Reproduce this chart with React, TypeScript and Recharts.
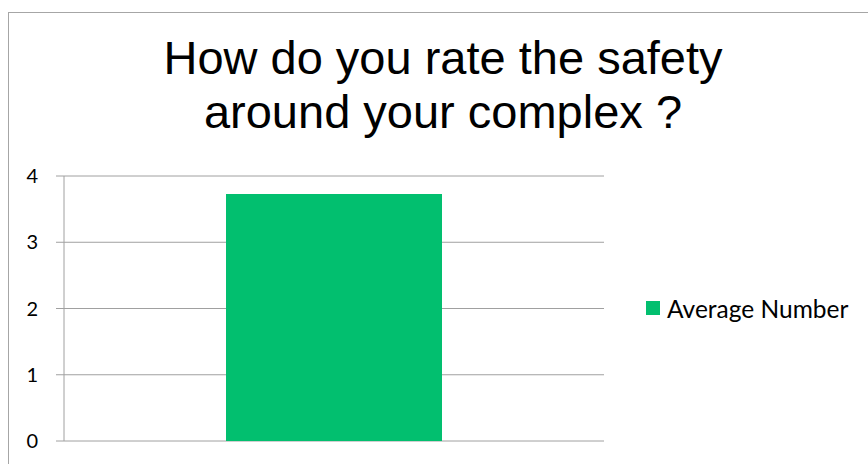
import React from "react";
import { BarChart, Bar, XAxis, YAxis, CartesianGrid } from "recharts";

const categories = [""];
const averageNumber = [3.73];
const yTicks = [0, 1, 2, 3, 4];
const seriesName = "Average Number";
const titleLines = ["How do you rate the safety", "around your complex ?"];

const data = categories.map((c, i) => ({ name: c, value: averageNumber[i] }));

const GREEN = "#02BF6F";
const GRID = "#A0A0A0";

export default function App() {
  return (
    <div style={{ position: "fixed", left: 0, top: 0, width: 868, height: 464, overflow: "hidden", background: "#fff" }}>
      <div style={{ position: "absolute", left: 8, top: 12, width: 900, height: 500, border: "1.5px solid #A6A6A6", boxSizing: "border-box" }} />
      <div
        style={{
          position: "absolute",
          left: 8,
          top: 31,
          width: 870,
          textAlign: "center",
          fontFamily: "'Liberation Sans', Arial, sans-serif",
          fontSize: 47,
          lineHeight: "54px",
          color: "#000",
          whiteSpace: "nowrap",
        }}
      >
        {titleLines.map((l, i) => (
          <div key={i}>{l}</div>
        ))}
      </div>
      <div style={{ position: "absolute", left: 0, top: 0 }}>
        <BarChart width={868} height={464} data={data} margin={{ top: 176, right: 264, bottom: 23, left: 0 }} barCategoryGap="30%">
          <CartesianGrid vertical={false} stroke={GRID} strokeWidth={1} />
          <XAxis dataKey="name" tick={false} tickLine={false} axisLine={{ stroke: GRID }} height={0} />
          <YAxis
            width={64}
            domain={[0, 4]}
            ticks={yTicks}
            interval={0}
            tickSize={8}
            tickMargin={18}
            axisLine={{ stroke: GRID }}
            tickLine={{ stroke: GRID }}
            tick={{ fill: "#000", fontSize: 20, fontFamily: "Lato, 'Open Sans', sans-serif" }}
          />
          <Bar dataKey="value" name={seriesName} fill={GREEN} isAnimationActive={false} />
        </BarChart>
      </div>
      <div
        style={{
          position: "absolute",
          left: 646,
          top: 294,
          height: 28,
          display: "flex",
          alignItems: "center",
          whiteSpace: "nowrap",
          fontFamily: "Lato, 'Open Sans', sans-serif",
          fontSize: 24.5,
          color: "#000",
        }}
      >
        <div style={{ width: 14, height: 14, background: GREEN, marginRight: 7 }} />
        <span>{seriesName}</span>
      </div>
    </div>
  );
}
